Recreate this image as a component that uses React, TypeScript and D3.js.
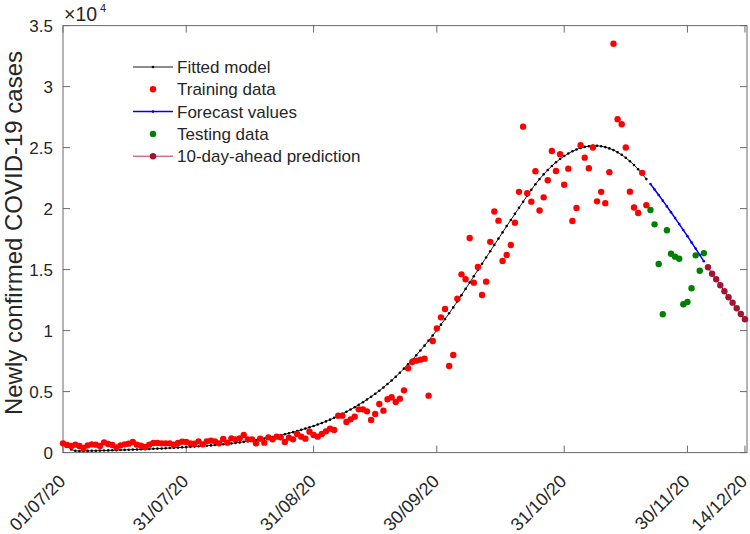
import React, { useEffect } from 'react';
import * as d3 from 'd3';

// daily series, day 0 = 01/07/2020
const startDate = '2020-07-01';
const xEndDate = '2020-12-14T12:00:00Z';
const tickDates = ['2020-07-01', '2020-07-31', '2020-08-31', '2020-09-30', '2020-10-31', '2020-11-30', '2020-12-14'];
const yTicks = [0, 5000, 10000, 15000, 20000, 25000, 30000, 35000];

// training data, days 0..142
const trainingCases = [
  760, 623, 541, 650, 541, 377, 596, 678, 650, 541,
  842, 705, 623, 432, 596, 678, 732, 869, 650, 568,
  459, 650, 787, 787, 760, 760, 760, 650, 787, 896,
  869, 760, 732, 924, 678, 924, 978, 924, 760, 1115,
  815, 1170, 1088, 1170, 1443, 1088, 1088, 760, 1142, 814,
  1252, 1088, 1306, 1252, 869, 1224, 1088, 1525, 1306, 1142,
  1716, 1443, 1306, 1525, 1743, 1962, 1852, 3027, 3027, 2508,
  2727, 2945, 3547, 3547, 3383, 2672, 3164, 3984, 3437, 4367,
  4531, 4148, 4422, 5104, 6908, 7426, 7535, 7617, 7699, 4667,
  9148, 10186, 11088, 11771, 7098, 8000, 12618, 14612, 14203, 17590,
  13929, 15214, 12918, 14011, 17276, 19763, 19011, 15706, 16197, 17016,
  18848, 21375, 26716, 21253, 20569, 23057, 19845, 20924, 22318, 24722,
  23083, 24449, 21950, 23274, 18984, 20050, 25200, 24176, 23302, 25010,
  20596, 21375, 20446, 22988, 33507, 27330, 26908, 25010, 21388, 20090,
  19640, 22932, 20282,
];

// fitted model, days 2..142
const modelStartDay = 2;
const fittedModel = [
  250, 150, 130, 134, 140, 147, 155, 163, 172, 181,
  191, 201, 212, 223, 234, 246, 258, 271, 284, 298,
  312, 327, 342, 358, 375, 392, 410, 429, 449, 470,
  492, 515, 539, 564, 591, 620, 651, 684, 719, 756,
  795, 836, 880, 927, 977, 1030, 1086, 1146, 1210, 1278,
  1350, 1426, 1506, 1590, 1678, 1770, 1866, 1966, 2070, 2180,
  2298, 2424, 2558, 2700, 2850, 3008, 3174, 3348, 3530, 3720,
  3920, 4130, 4350, 4580, 4820, 5072, 5337, 5617, 5912, 6222,
  6547, 6887, 7239, 7603, 7979, 8367, 8767, 9179, 9603, 10039,
  10487, 10947, 11419, 11903, 12399, 12905, 13419, 13935, 14450, 14965,
  15480, 15995, 16510, 17025, 17540, 18055, 18565, 19070, 19570, 20065,
  20555, 21066, 21546, 21996, 22416, 22806, 23166, 23496, 23796, 24066,
  24306, 24516, 24696, 24846, 24966, 25056, 25116, 25146, 25146, 25111,
  25041, 24936, 24796, 24621, 24411, 24166, 23886, 23571, 23221, 22836,
  22416,
];

// forecast + testing, days 143..156
const forecastStartDay = 143;
const forecastValues = [22020, 21570, 21110, 20650, 20180, 19700, 19220, 18730, 18240, 17740, 17230, 16720, 16200, 15680];
const testingCases = [19890, 18710, 15460, 11340, 18220, 16300, 16060, 15890, 12160, 12350, 13470, 16170, 14910, 16340];

// 10-day-ahead prediction, days 157..166
const predictionStartDay = 157;
const predictionValues = [15190, 14665, 14205, 13715, 13220, 12730, 12290, 11830, 11365, 10930];

const legendLabels = ['Fitted model', 'Training data', 'Forecast values', 'Testing data', '10-day-ahead prediction'];

const W = 750;
const H = 534;
const margin = { top: 25.6, right: 3, bottom: 81.4, left: 63 };
const font = '"Liberation Sans", Arial, Helvetica, sans-serif';
const textColor = '#262626';
const axisColor = '#6b6b6b';

type Pt = { date: Date; value: number };

const day0 = new Date(startDate + 'T00:00:00Z');
const toPoints = (vals: number[], first: number): Pt[] =>
  vals.map((v, i) => ({ date: d3.utcDay.offset(day0, first + i), value: v }));

export default function App() {
  useEffect(() => {
    document.body.style.margin = '0';
  }, []);

  const x = d3.scaleUtc()
    .domain([day0, new Date(xEndDate)])
    .range([margin.left, W - margin.right]);
  const y = d3.scaleLinear()
    .domain([0, 35000])
    .range([H - margin.bottom, margin.top]);

  const line = d3.line<Pt>().x(d => x(d.date)).y(d => y(d.value));

  const training = toPoints(trainingCases, 0);
  const model = toPoints(fittedModel, modelStartDay);
  const forecast = toPoints(forecastValues, forecastStartDay);
  const testing = toPoints(testingCases, forecastStartDay);
  const prediction = toPoints(predictionValues, predictionStartDay);

  const fmt = d3.utcFormat('%d/%m/%y');
  const x0 = margin.left, x1 = W - margin.right;
  const y0 = H - margin.bottom, y1 = margin.top;
  const tickLen = 7;

  const legendX = 133;
  const legendY = 67;
  const legendStep = 22.3;

  return (
    <svg width={W} height={H} style={{ display: 'block', background: '#fff', fontFamily: font }}>
      {/* axis box */}
      <rect x={x0} y={y1} width={x1 - x0} height={y0 - y1} fill="none" stroke={axisColor} strokeWidth={1} />

      {/* x ticks */}
      {tickDates.map(t => {
        const d = new Date(t + 'T00:00:00Z');
        const px = x(d);
        return (
          <g key={t}>
            <line x1={px} x2={px} y1={y0} y2={y0 - tickLen} stroke={axisColor} />
            <line x1={px} x2={px} y1={y1} y2={y1 + tickLen} stroke={axisColor} />
            <text
              transform={`translate(${px - 1},${478}) rotate(-45)`}
              textAnchor="end"
              dy="0.35em"
              fontSize={18}
              fill={textColor}
            >
              {fmt(d)}
            </text>
          </g>
        );
      })}

      {/* y ticks */}
      {yTicks.map(v => (
        <g key={v}>
          <line x1={x0} x2={x0 + tickLen} y1={y(v)} y2={y(v)} stroke={axisColor} />
          <line x1={x1} x2={x1 - tickLen} y1={y(v)} y2={y(v)} stroke={axisColor} />
          <text x={53} y={y(v)} dy="0.35em" textAnchor="end" fontSize={17} fill={textColor}>
            {d3.format('~g')(v / 10000)}
          </text>
        </g>
      ))}

      {/* exponent */}
      <text x={64} y={21} fontSize={19.5} fill={textColor}>
        ×10
        <tspan dx={3} dy={-9.5} fontSize={11}>4</tspan>
      </text>

      {/* y label */}
      <text
        transform={`translate(${21.5},${233}) rotate(-90)`}
        textAnchor="middle"
        fontSize={24}
        fill={textColor}
      >
        Newly confirmed COVID-19 cases
      </text>

      {/* fitted model */}
      <path d={line(model) ?? ''} fill="none" stroke="#000" strokeWidth={0.9} />
      {model.map((d, i) => (
        <circle key={'m' + i} cx={x(d.date)} cy={y(d.value)} r={1.3} fill="#000" />
      ))}

      {/* training */}
      {training.map((d, i) => (
        <circle key={'t' + i} cx={x(d.date)} cy={y(d.value)} r={3.2} fill="#ff0000" />
      ))}

      {/* forecast */}
      <path d={line(forecast) ?? ''} fill="none" stroke="#0000ff" strokeWidth={1.5} />
      {forecast.map((d, i) => (
        <circle key={'f' + i} cx={x(d.date)} cy={y(d.value)} r={1.3} fill="#0000ff" />
      ))}

      {/* testing */}
      {testing.map((d, i) => (
        <circle key={'g' + i} cx={x(d.date)} cy={y(d.value)} r={3.2} fill="#008000" />
      ))}

      {/* prediction */}
      <path d={line(prediction) ?? ''} fill="none" stroke="#a2142f" strokeWidth={1} />
      {prediction.map((d, i) => (
        <circle key={'p' + i} cx={x(d.date)} cy={y(d.value)} r={3.2} fill="#a2142f" />
      ))}

      {/* legend */}
      {legendLabels.map((label, i) => {
        const ly = legendY + i * legendStep;
        const cx = legendX + 20;
        return (
          <g key={label}>
            {i === 0 && (
              <>
                <line x1={legendX} x2={legendX + 40} y1={ly} y2={ly} stroke="#000" strokeWidth={0.9} />
                <circle cx={cx} cy={ly} r={1.3} fill="#000" />
              </>
            )}
            {i === 1 && <circle cx={cx} cy={ly} r={3.2} fill="#ff0000" />}
            {i === 2 && (
              <>
                <line x1={legendX} x2={legendX + 40} y1={ly} y2={ly} stroke="#0000ff" strokeWidth={1.5} />
                <circle cx={cx} cy={ly} r={1.3} fill="#0000ff" />
              </>
            )}
            {i === 3 && <circle cx={cx} cy={ly} r={3.2} fill="#008000" />}
            {i === 4 && (
              <>
                <line x1={legendX} x2={legendX + 40} y1={ly} y2={ly} stroke="#c0304f" strokeWidth={1} />
                <circle cx={cx} cy={ly} r={3.2} fill="#a2142f" />
              </>
            )}
            <text x={legendX + 44} y={ly} dy="0.35em" fontSize={17} fill={textColor}>
              {label}
            </text>
          </g>
        );
      })}
    </svg>
  );
}
